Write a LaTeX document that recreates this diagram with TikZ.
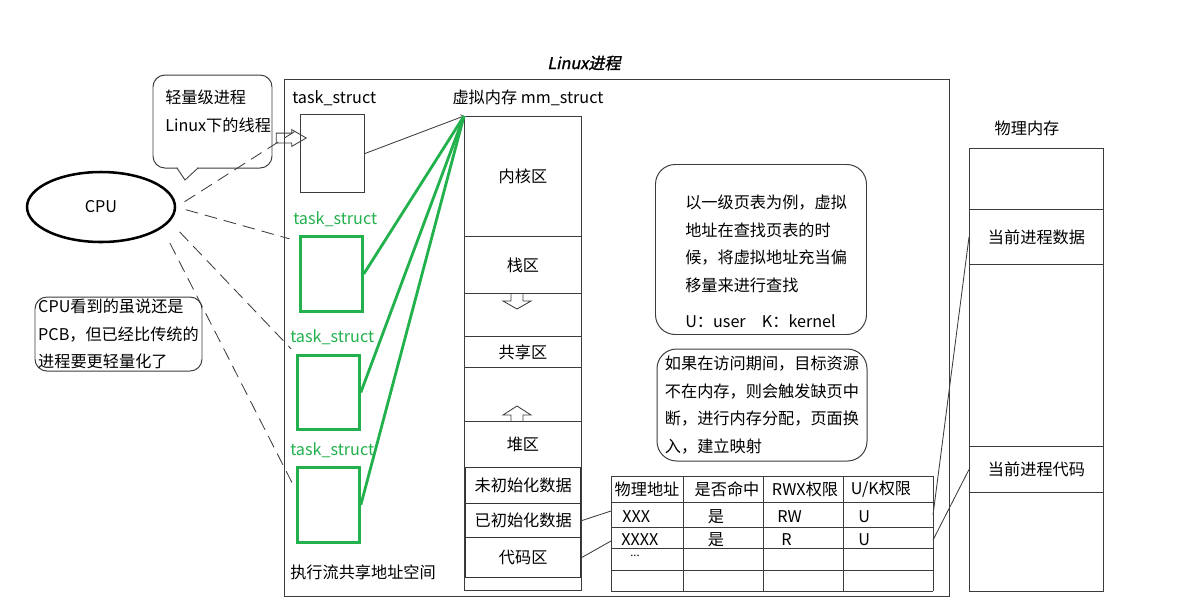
\documentclass[tikz,border=0pt]{standalone}
\usepackage{fontspec}
\setmainfont{Noto Sans CJK SC}
\newfontfamily\titlefont{Noto Sans CJK SC}[FakeBold=1.5,FakeSlant=0.2]
\usetikzlibrary{shapes.geometric, shapes.arrows}
\definecolor{pgreen}{RGB}{34,177,76}
\definecolor{ink}{RGB}{60,60,60}
\newlength\px
\setlength\px{0.025cm}
\tikzset{sz/.style 2 args={minimum width=#1*\px, minimum height=#2*\px}}

\begin{document}
\begin{tikzpicture}[x=0.025cm, y=-0.025cm,
    txt/.style={font=\fontsize{11.5}{19.5}\selectfont, text=black},
    box/.style={draw=ink, line width=0.7pt, inner sep=0pt, anchor=north west, txt},
    seg/.style={box, line width=1pt, draw=black!80},
    gbox/.style={draw=pgreen, line width=2pt, inner sep=0pt, anchor=north west},
    glabel/.style={txt, text=pgreen, inner sep=0pt, anchor=west},
    note/.style={draw=ink, line width=0.7pt, rounded corners=8.5pt},
    cpuline/.style={draw=ink, line width=0.6pt, dash pattern=on 9pt off 5pt},
    gline/.style={draw=pgreen, line width=2pt},
    link/.style={draw=ink, line width=0.6pt}
]
    \useasboundingbox (0,0) rectangle (1183,608);

    % Title and process frame
    \node[txt, font=\titlefont\fontsize{11.5}{14}\selectfont] (title) at (584,63) {Linux进程};
    \node[box, sz={665}{517}] (proc) at (284,79) {};

    % task_struct list
    \node[txt, inner sep=0pt, anchor=west] (tslabel) at (292,98) {task\_struct};
    \node[box, sz={64}{78}] (ts0) at (300,114) {};
    \node[glabel] (gl1) at (293,219) {task\_struct};
    \node[gbox, sz={62}{75}] (gts1) at (299,235) {};
    \node[glabel] (gl2) at (290,337) {task\_struct};
    \node[gbox, sz={62}{74}] (gts2) at (296,354) {};
    \node[glabel] (gl3) at (290,450) {task\_struct};
    \node[gbox, sz={62}{75}] (gts3) at (296,466) {};
    \node[txt, inner sep=0pt, anchor=west] (sharelabel) at (290,572) {执行流共享地址空间};

    % Virtual memory (mm_struct)
    \node[txt, inner sep=0pt] (mmlabel) at (528,98) {虚拟内存 mm\_struct};
    \node[box, sz={117}{474}] (mm) at (464,116) {};
    \node[box, sz={117}{120}] (kernel) at (464,116) {内核区};
    \node[box, sz={117}{57}] (stack) at (464,236) {栈区};
    \node[box, sz={117}{31}] (shm) at (464,336) {共享区};
    \node[box, sz={117}{46}] (heap) at (464,421) {堆区};
    \node[seg, sz={115}{36}] (bss) at (465,467) {未初始化数据};
    \node[seg, sz={115}{34}] (data) at (465,503) {已初始化数据};
    \node[seg, sz={115}{40}] (code) at (465,537) {代码区};
    \draw[link] (511,294) -- (511,301) -- (503,301) -- (517,309) -- (531,301) -- (523,301) -- (523,294);
    \draw[link] (511,421) -- (511,415) -- (503,415) -- (517,406) -- (531,415) -- (523,415) -- (523,421);

    % task_structs -> mm_struct
    \draw[link, ->] (ts0.east) -- (mm.north west);
    \draw[gline] (gts1.east) -- (mm.north west);
    \draw[gline] (gts2.east) -- (mm.north west);
    \draw[gline] (gts3.east) -- (mm.north west);

    % Notes
    \draw[note] (153,75) rectangle (272,168);
    \fill[white] (178,166.5) rectangle (197,169.5);
    \draw[link] (177,168) -- (185,180) -- (198,168);
    \node[txt, anchor=north west, align=left, inner sep=0pt] (lwp) at (165,90) {轻量级进程\\Linux下的线程};
    \node[single arrow, draw=ink, line width=0.6pt, inner sep=4.5*\px, single arrow head extend=3.5*\px,
          single arrow tip angle=60, minimum height=30*\px] (hint) at (287,138) {};

    \node[note, txt, align=left, sz={167}{74}, inner sep=0pt] (pcbnote) at (118.5,334)
        {CPU看到的虽说还是\\PCB，但已经比传统的\\进程要更轻量化了};

    \node[note, rounded corners=14pt, sz={211}{170}, anchor=north west] (pgnote) at (655,164) {};
    \node[txt, anchor=north west, align=left, inner sep=0pt] (pgtext) at (685,195)
        {以一级页表为例，虚拟\\地址在查找页表的时\\候，将虚拟地址充当偏\\移量来进行查找\\[6pt]U：user\quad K：kernel};

    \node[note, rounded corners=14pt, txt, align=left, sz={210}{112}, inner sep=0pt] (faultnote) at (762,405)
        {如果在访问期间，目标资源\\不在内存，则会触发缺页中\\断，进行内存分配，页面换\\入，建立映射};

    % CPU
    \node[draw=black, line width=1.8pt, ellipse, sz={148}{70}, inner sep=0pt, txt] (cpu) at (101,207) {CPU};
    \draw[cpuline, shorten <=7pt] (cpu.east) -- (ts0.142);
    \draw[cpuline, shorten <=7pt, shorten >=7pt] (cpu.east) -- (gts1.135);
    \draw[cpuline, shorten <=10pt, shorten >=5pt] (cpu.-12) -- (gts2.north west);
    \draw[cpuline, shorten <=12pt, shorten >=4pt] (cpu.-19) -- (gts3.156);

    % Page table
    \foreach \y in {476,502,527,548,570,591} \draw[link] (611,\y) -- (933,\y);
    \foreach \x in {611,683,763,843,933} \draw[link] (\x,476) -- (\x,591);
    \node[txt, inner sep=0pt] (hpa) at (647,489) {物理地址};
    \node[txt, inner sep=0pt] (hhit) at (727,489) {是否命中};
    \node[txt, inner sep=0pt] (hrwx) at (805,489) {RWX权限};
    \node[txt, inner sep=0pt] (huk) at (881,489) {U/K权限};
    \node[txt, inner sep=0pt, anchor=west] (pa1) at (622,517) {XXX};
    \node[txt, inner sep=0pt] (hit1) at (716,517) {是};
    \node[txt, inner sep=0pt, anchor=west] (rwx1) at (777,517) {RW};
    \node[txt, inner sep=0pt, anchor=west] (uk1) at (858,517) {U};
    \node[txt, inner sep=0pt, anchor=west] (pa2) at (621,540) {XXXX};
    \node[txt, inner sep=0pt] (hit2) at (716,540) {是};
    \node[txt, inner sep=0pt, anchor=west] (rwx2) at (781,540) {R};
    \node[txt, inner sep=0pt, anchor=west] (uk2) at (858,540) {U};
    \node[txt, inner sep=0pt, anchor=west, font=\fontsize{8}{10}\selectfont] (pa3) at (630,556) {...};
    \coordinate (r1in) at (611,511);
    \coordinate (r2in) at (611,541);
    \coordinate (r1out) at (933,515);
    \coordinate (r2out) at (933,540);

    % Physical memory
    \node[txt, inner sep=0pt] (pmlabel) at (1027,128) {物理内存};
    \node[box, sz={134}{61}] (pm0) at (969,148) {};
    \node[box, sz={134}{55}] (pdata) at (969,209) {当前进程数据};
    \node[box, sz={134}{182}] (pm2) at (969,264) {};
    \node[box, sz={134}{46}] (pcode) at (969,446) {当前进程代码};
    \node[box, sz={134}{99}] (pm4) at (969,492) {};

    % Mappings
    \draw[link] (data.east) -- (r1in);
    \draw[link] (code.east) -- (r2in);
    \draw[link] (r1out) -- (pdata.west);
    \draw[link] (r2out) -- (pcode.west);
\end{tikzpicture}
\end{document}
